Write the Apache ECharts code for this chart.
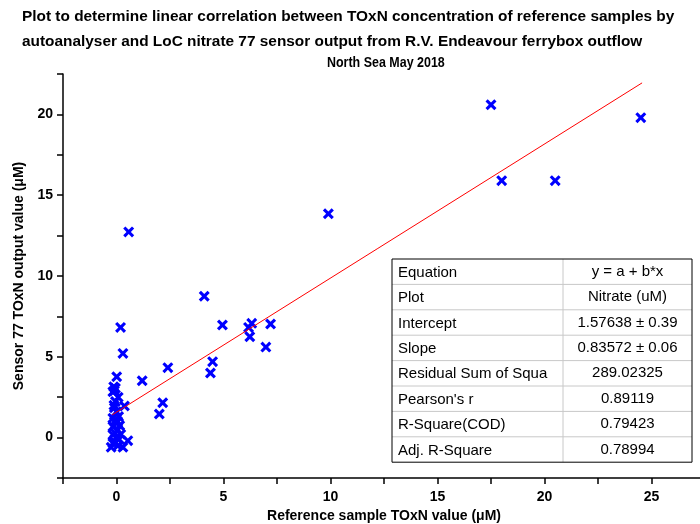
<!DOCTYPE html>
<html>
<head>
<meta charset="utf-8">
<script src="https://cdn.jsdelivr.net/npm/echarts@6/dist/echarts.min.js"></script>
<style>
  html, body { margin: 0; padding: 0; background: #fff; }
  #chart { width: 700px; height: 524px; }
</style>
</head>
<body>
<div id="chart"></div>
<script>
// reference TOxN (x) vs sensor output (y), uM
const refValues = [
  17.5, 24.5, 18.0, 20.5, 9.9, 0.57, 4.1, 0.19, 4.95, 6.32, 6.17, 6.23, 7.2, 6.98, 0.3,
  4.49, 4.39, 2.4, 1.2, 2.16, 2.0, 0.01,
  -0.13, -0.17, -0.05, -0.1, -0.05, 0.37, 0.0, -0.17, 0.06, -0.17, 0.06, -0.17, 0.0,
  0.53, -0.17, 0.06, 0.3, -0.25, -0.05, 0.1, -0.1, 0.15, -0.08, 0.12, -0.12, 0.08, 0.2, -0.1
];
const sensorValues = [
  20.6, 19.8, 15.9, 15.9, 13.85, 12.73, 8.75, 6.82, 6.97, 7.07, 6.82, 6.24, 7.03, 5.6, 5.21,
  4.7, 4.0, 4.33, 3.52, 2.16, 1.46, 3.77,
  3.15, 2.84, 3.05, 2.9, 2.23, 1.96, 1.6, 1.2, 0.99, 0.68, 0.48, 0.17, 0.02,
  -0.19, -0.35, -0.51, -0.6, -0.6, -0.3, 1.3, 1.85, 0.75, 0.3, -0.1, 2.0, 2.5, 0.2, 1.0
];
// ends of the fitted line
const fitX = [-0.2, 24.56];
const fitY = [1.41, 21.95];

const tableLabels = ['Equation', 'Plot', 'Intercept', 'Slope', 'Residual Sum of Squa',
  "Pearson's r", 'R-Square(COD)', 'Adj. R-Square'];
const tableValues = ['y = a + b*x', 'Nitrate (uM)', '1.57638 \u00b1 0.39', '0.83572 \u00b1 0.06',
  '289.02325', '0.89119', '0.79423', '0.78994'];

const points = refValues.map((x, i) => [x, sensorValues[i]]);
const fitLine = fitX.map((x, i) => [x, fitY[i]]);

const crossPath = 'path://M0,2L2,0L5,3L8,0L10,2L7,5L10,8L8,10L5,7L2,10L0,8L3,5Z';

// stats table
const tb = { left: 392, top: 259, width: 300, rowH: 25.4, split: 563 };
const tableEls = [];
tableLabels.forEach((lab, i) => {
  const cy = tb.top + tb.rowH * (i + 0.5);
  if (i > 0) {
    tableEls.push({
      type: 'line',
      shape: { x1: tb.left, y1: tb.top + tb.rowH * i, x2: tb.left + tb.width, y2: tb.top + tb.rowH * i },
      style: { stroke: '#c8c8c8', lineWidth: 1 }
    });
  }
  tableEls.push({
    type: 'text', x: tb.left + 6, y: cy + 1,
    style: { text: lab, font: '15px "Liberation Sans", Arial, sans-serif', fill: '#000', textVerticalAlign: 'middle' }
  });
  tableEls.push({
    type: 'text', x: (tb.split + tb.left + tb.width) / 2, y: cy,
    style: { text: tableValues[i], font: '15px "Liberation Sans", Arial, sans-serif', fill: '#000',
      textAlign: 'center', textVerticalAlign: 'middle' }
  });
});
tableEls.push({
  type: 'line',
  shape: { x1: tb.split, y1: tb.top, x2: tb.split, y2: tb.top + tb.rowH * tableLabels.length },
  style: { stroke: '#c8c8c8', lineWidth: 1 }
});
tableEls.push({
  type: 'rect',
  shape: { x: tb.left, y: tb.top, width: tb.width, height: tb.rowH * tableLabels.length },
  style: { fill: 'none', stroke: '#000', lineWidth: 1 }
});
// third title line, narrower face in the original
tableEls.push({
  type: 'text', x: 327, y: 63, scaleX: 0.81,
  style: { text: 'North Sea May 2018', font: 'bold 15.4px "Liberation Sans", Arial, sans-serif',
    fill: '#000', textVerticalAlign: 'middle' }
});

const chart = echarts.init(document.getElementById('chart'));
const boldFont = { fontFamily: '"Liberation Sans", Arial, sans-serif', fontWeight: 'bold', color: '#000' };
const titleStyle = Object.assign({ fontSize: 15.4 }, boldFont);

chart.setOption({
  animation: false,
  backgroundColor: '#fff',
  title: [
    { text: 'Plot to determine linear correlation between TOxN concentration of reference samples by',
      left: 22, top: 9, padding: 0, textStyle: titleStyle },
    { text: 'autoanalyser and LoC nitrate 77 sensor output from R.V. Endeavour ferrybox outflow',
      left: 22, top: 34, padding: 0, textStyle: titleStyle }
  ],
  grid: { left: 63, top: 74, width: 642, height: 404, outerBoundsMode: 'none', containLabel: false },
  xAxis: {
    type: 'value', min: -2.5, max: 27.5, interval: 2.5,
    name: 'Reference sample TOxN value (\u03bcM)', nameLocation: 'middle', nameGap: 31,
    nameTextStyle: Object.assign({ fontSize: 14 }, boldFont),
    axisLine: { onZero: false, lineStyle: { color: '#000', width: 1.5 } },
    axisTick: { length: 6, lineStyle: { color: '#000', width: 1.5 } },
    axisLabel: Object.assign({ fontSize: 14, margin: 12,
      formatter: v => (v % 5 === 0 ? String(v) : '') }, boldFont),
    splitLine: { show: false }
  },
  yAxis: {
    type: 'value', min: -2.5, max: 22.5, interval: 2.5,
    name: 'Sensor 77 TOxN output value (\u03bcM)', nameLocation: 'middle', nameGap: 32,
    nameTextStyle: Object.assign({ fontSize: 14 }, boldFont),
    axisLine: { show: true, onZero: false, lineStyle: { color: '#000', width: 1.5 } },
    axisTick: { show: true, length: 6, lineStyle: { color: '#000', width: 1.5 } },
    axisLabel: Object.assign({ fontSize: 14, margin: 10,
      formatter: v => (v % 5 === 0 ? String(v) : '') }, boldFont),
    splitLine: { show: false }
  },
  graphic: tableEls,
  series: [
    {
      type: 'line', data: fitLine, symbol: 'none', z: 3,
      lineStyle: { color: '#ff0000', width: 1 }
    },
    {
      type: 'scatter', data: points, symbol: crossPath, symbolSize: 11, z: 2,
      itemStyle: { color: '#0000ff', opacity: 1 }
    }
  ]
});
</script>
</body>
</html>
